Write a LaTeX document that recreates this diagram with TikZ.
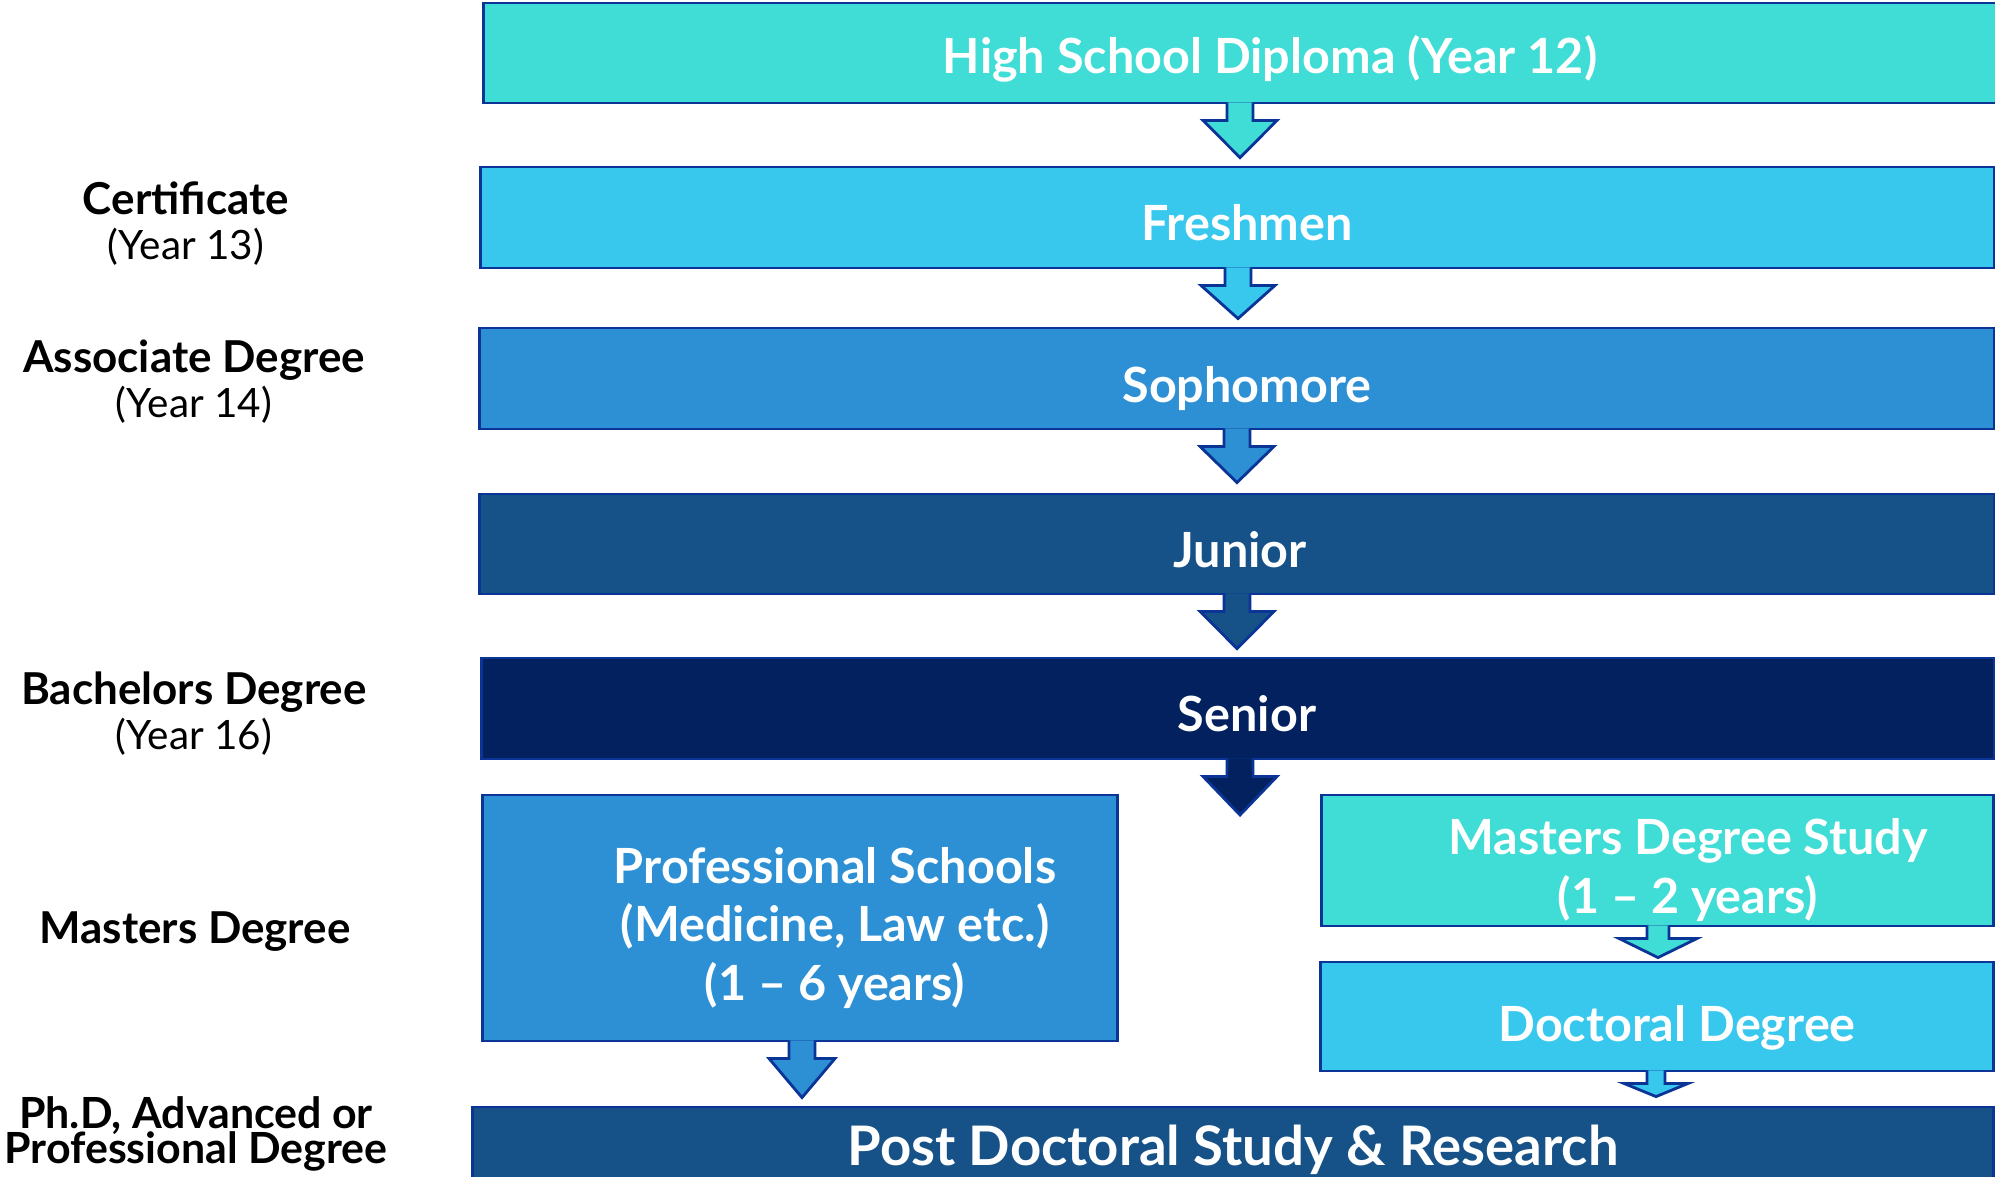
\documentclass[tikz,border=0pt]{standalone}
\usepackage{fontspec}
\setmainfont{Lato}
\usetikzlibrary{calc}

\definecolor{turq}{RGB}{64,220,214}
\definecolor{sky}{RGB}{56,200,238}
\definecolor{midblue}{RGB}{46,144,212}
\definecolor{darkblue}{RGB}{22,82,135}
\definecolor{navy}{RGB}{2,33,94}
\definecolor{edge}{RGB}{10,52,150}

\tikzset{
  stage/.style={draw=edge, line width=0.8pt, inner sep=0pt},
  caption/.style={text=white, anchor=base, inner sep=0pt, align=center,
    font=\bfseries\fontsize{13.8}{16.6}\selectfont},
  level/.style={align=center, font=\fontsize{11.5}{12.8}\selectfont},
  pointer/.style={draw=edge, line width=0.8pt, line join=miter}
}

% block arrow: colour, top, tip, shaft half width, shaft length, head half width
\newcommand{\blockarrow}[6]{%
  \draw[pointer, fill=#1] ($#2+(-#4,-2)$) -- ($#2+(-#4,#5)$) -- ($#2+(-#6,#5)$) -- #3
    -- ($#2+(#6,#5)$) -- ($#2+(#4,#5)$) -- ($#2+(#4,-2)$);
}

\begin{document}
\begin{tikzpicture}[x=0.01cm, y=-0.01cm]
  \clip (0,0) rectangle (1995,1176);
  \fill[white] (0,0) rectangle (1995,1176);

  \node[level] (cert) at (186,224) {{\bfseries\fontsize{12.5}{12.8}\selectfont Certificate}\\(Year 13)};
  \node[level] (assoc) at (194,382) {{\bfseries\fontsize{12.5}{12.8}\selectfont Associate Degree}\\(Year 14)};
  \node[level] (bach) at (194,714) {{\bfseries\fontsize{12.5}{12.8}\selectfont Bachelors Degree}\\(Year 16)};
  \node[level, font=\bfseries\fontsize{12.5}{12.8}\selectfont] (mast) at (195,932) {Masters Degree};
  \node[level, anchor=base, font=\bfseries\fontsize{12.2}{12.2}\selectfont] (phd) at (196,1163) {Ph.D, Advanced or\\[-2.5pt]Professional Degree};

  \node[stage, fill=turq, minimum width=15.12cm, minimum height=1.00cm] (hs) at (1240,53) {};
  \node[stage, fill=sky, minimum width=15.13cm, minimum height=1.01cm] (fresh) at (1237.5,217.5) {};
  \node[stage, fill=midblue, minimum width=15.14cm, minimum height=1.01cm] (soph) at (1237,378.5) {};
  \node[stage, fill=darkblue, minimum width=15.14cm, minimum height=1.00cm] (jun) at (1237,544) {};
  \node[stage, fill=navy, minimum width=15.12cm, minimum height=1.01cm] (sen) at (1238,708.5) {};
  \node[stage, fill=midblue, minimum width=6.34cm, minimum height=2.46cm] (prof) at (800,918) {};
  \node[stage, fill=turq, minimum width=6.71cm, minimum height=1.31cm] (mstudy) at (1657.5,860.5) {};
  \node[stage, fill=sky, minimum width=6.72cm, minimum height=1.09cm] (doc) at (1657,1016.5) {};
  \node[stage, fill=darkblue, minimum width=15.20cm, minimum height=0.83cm] (post) at (1233,1148.5) {};

  \node[caption] (hstext) at (1270,74) {High School Diploma (Year 12)};
  \node[caption] (freshtext) at (1247,240) {Freshmen};
  \node[caption] (sophtext) at (1247,402) {Sophomore};
  \node[caption] (juntext) at (1240,567) {Junior};
  \node[caption] (sentext) at (1247,731) {Senior};
  \node[caption] (proftext) at (835,1000) {Professional Schools\\(Medicine, Law etc.)\\(1 -- 6 years)};
  \node[caption] (mstudytext) at (1688,913) {Masters Degree Study\\(1 -- 2 years)};
  \node[caption] (doctext) at (1677,1041) {Doctoral Degree};
  \node[caption, font=\bfseries\fontsize{15.5}{18}\selectfont] (posttext) at (1233,1165) {Post Doctoral Study \& Research};

  \coordinate (split) at (1240,815);

  \blockarrow{turq}{(1240,0 |- hs.south)}{($(1240,0 |- fresh.north)+(0,-8)$)}{13}{16}{37}
  \blockarrow{sky}{(1238,0 |- fresh.south)}{($(1238,0 |- soph.north)+(0,-8)$)}{13}{16}{37}
  \blockarrow{midblue}{(1237,0 |- soph.south)}{($(1237,0 |- jun.north)+(0,-10)$)}{13}{16}{37}
  \blockarrow{darkblue}{(1237,0 |- jun.south)}{($(1237,0 |- sen.north)+(0,-8)$)}{13}{16}{37}
  \blockarrow{navy}{(1240,0 |- sen.south)}{(split)}{13}{16}{37}
  \blockarrow{midblue}{(802,0 |- prof.south)}{($(802,0 |- post.north)+(0,-8)$)}{13}{16}{33}
  \blockarrow{turq}{(1658,0 |- mstudy.south)}{($(1658,0 |- doc.north)+(0,-3)$)}{11}{11}{39}
  \blockarrow{sky}{(1656,0 |- doc.south)}{($(1656,0 |- post.north)+(0,-9)$)}{9}{11}{32}
\end{tikzpicture}
\end{document}
